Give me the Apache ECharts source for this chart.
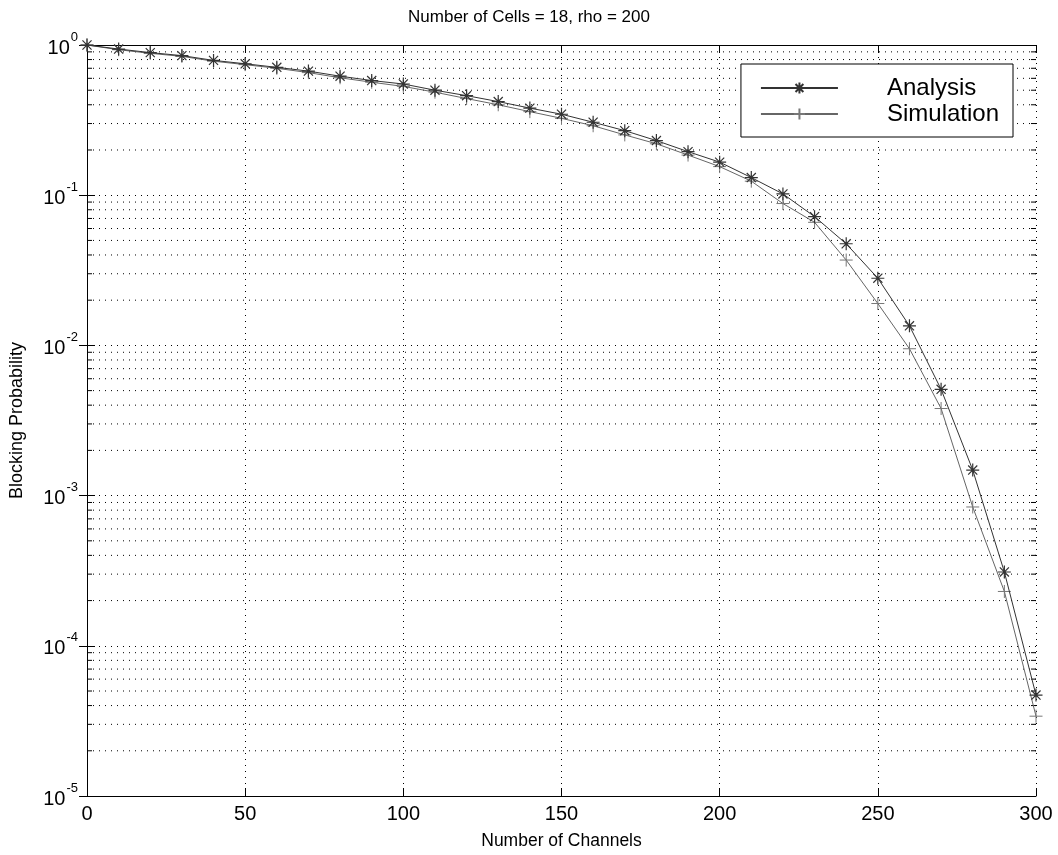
<!DOCTYPE html>
<html>
<head>
<meta charset="utf-8">
<script src="https://cdn.jsdelivr.net/npm/echarts@6/dist/echarts.min.js"></script>
<style>
  html, body { margin: 0; padding: 0; background: #fff; }
  #chart_1 { width: 1058px; height: 855px; }
</style>
</head>
<body>
<div id="chart_1"></div>
<script>
// data
var channels = [0, 10, 20, 30, 40, 50, 60, 70, 80, 90, 100, 110, 120, 130, 140, 150,
    160, 170, 180, 190, 200, 210, 220, 230, 240, 250, 260, 270, 280, 290, 300];
var analysis = [1.0, 0.94, 0.89, 0.85, 0.79, 0.75, 0.71, 0.67, 0.62, 0.58, 0.55, 0.50,
    0.46, 0.42, 0.38, 0.346, 0.306, 0.269, 0.231, 0.195, 0.166, 0.131, 0.102, 0.072,
    0.0475, 0.028, 0.0135, 0.0051, 0.00148, 0.00031, 0.000047];
var simulation = [1.0, 0.93, 0.88, 0.84, 0.78, 0.74, 0.70, 0.655, 0.605, 0.565, 0.53, 0.485,
    0.44, 0.40, 0.36, 0.325, 0.29, 0.252, 0.22, 0.185, 0.155, 0.124, 0.088, 0.066,
    0.037, 0.019, 0.0095, 0.0038, 0.00084, 0.00023, 0.000034];

// minor decade values for the log grid
var minorValues = [];
for (var e = -5; e < 0; e++) {
    for (var m = 2; m <= 9; m++) {
        minorValues.push([0, m * Math.pow(10, e)]);
    }
}

var starPath = 'path://M0,-10L0,10M-10,0L10,0M-7,-7L7,7M-7,7L7,-7';
var plusPath = 'path://M0,-10L0,10M-10,0L10,0';

var font = 'Liberation Sans, Arial, Helvetica, sans-serif';

function pairs(ys) {
    var out = [];
    for (var i = 0; i < channels.length; i++) out.push([channels[i], ys[i]]);
    return out;
}

var chart_1 = echarts.init(document.getElementById('chart_1'));

var option = {
    animation: false,
    backgroundColor: '#fff',
    title: {
        text: 'Number of Cells = 18, rho = 200',
        left: 'center',
        top: 4,
        textStyle: { fontFamily: font, fontSize: 17, fontWeight: 'normal', color: '#000' }
    },
    legend: {
        orient: 'vertical',
        right: 45,
        top: 64,
        padding: [12, 14, 11, 19],
        itemGap: 2,
        itemWidth: 77,
        itemHeight: 14,
        borderColor: '#000',
        borderWidth: 1,
        backgroundColor: '#fff',
        textStyle: { fontFamily: font, fontSize: 24, color: '#000', padding: [0, 0, 0, 44] },
        data: ['Analysis', 'Simulation']
    },
    grid: { left: 84, right: 22, top: 45, bottom: 58 },
    xAxis: [{
        type: 'value',
        min: 0,
        max: 300,
        interval: 50,
        name: 'Number of Channels',
        nameLocation: 'middle',
        nameGap: 36,
        nameTextStyle: { fontFamily: font, fontSize: 17.5, color: '#000' },
        axisLine: { show: true, lineStyle: { color: '#000', width: 1 } },
        axisTick: { inside: true, length: 8, lineStyle: { color: '#000' } },
        axisLabel: { fontFamily: font, fontSize: 20, color: '#000', margin: 8 },
        splitLine: { show: true, lineStyle: { color: '#000', type: [1, 5], width: 1 } }
    }, {
        type: 'value',
        position: 'top',
        min: 0,
        max: 300,
        interval: 50,
        axisLine: { show: true, lineStyle: { color: '#000', width: 1 } },
        axisTick: { inside: true, length: 8, lineStyle: { color: '#000' } },
        axisLabel: { show: false },
        splitLine: { show: false }
    }],
    yAxis: [{
        type: 'log',
        logBase: 10,
        min: 1e-5,
        max: 1,
        name: 'Blocking Probability',
        nameLocation: 'middle',
        nameGap: 61,
        nameTextStyle: { fontFamily: font, fontSize: 18, color: '#000' },
        axisLine: { show: true, lineStyle: { color: '#000', width: 1 } },
        axisTick: { inside: true, length: 8, lineStyle: { color: '#000' } },
        axisLabel: {
            margin: 9,
            formatter: function (v) {
                var ex = Math.round(Math.log10(v));
                return '{b|10}{s|' + ex + '}';
            },
            rich: {
                b: { fontFamily: font, fontSize: 20, color: '#000', padding: [6, 1, 0, 0] },
                s: { fontFamily: font, fontSize: 13, color: '#000', verticalAlign: 'bottom', padding: [0, 0, 16, 0] }
            }
        },
        splitLine: { show: true, lineStyle: { color: '#000', type: [1, 5], width: 1 } }
    }, {
        type: 'log',
        logBase: 10,
        position: 'right',
        min: 1e-5,
        max: 1,
        axisLine: { show: true, lineStyle: { color: '#000', width: 1 } },
        axisTick: { inside: true, length: 8, lineStyle: { color: '#000' } },
        axisLabel: { show: false },
        splitLine: { show: false }
    }],
    series: [{
        // minor log grid and minor ticks on both sides
        type: 'custom',
        silent: true,
        z: 1,
        data: minorValues,
        renderItem: function (params, api) {
            var v = api.value(1);
            var p0 = api.coord([0, v]);
            var p1 = api.coord([300, v]);
            return {
                type: 'group',
                children: [{
                    type: 'line',
                    shape: { x1: p0[0], y1: p0[1], x2: p1[0], y2: p1[1] },
                    style: { stroke: '#000', lineWidth: 1, lineDash: [1, 5] }
                }, {
                    type: 'line',
                    shape: { x1: p0[0], y1: p0[1], x2: p0[0] + 5, y2: p0[1] },
                    style: { stroke: '#000', lineWidth: 1 }
                }, {
                    type: 'line',
                    shape: { x1: p1[0] - 5, y1: p1[1], x2: p1[0], y2: p1[1] },
                    style: { stroke: '#000', lineWidth: 1 }
                }]
            };
        }
    }, {
        name: 'Analysis',
        type: 'line',
        clip: false,
        z: 3,
        data: pairs(analysis),
        symbol: starPath,
        symbolSize: 13,
        itemStyle: { color: 'none', borderColor: '#333', borderWidth: 1.2 },
        lineStyle: { color: '#333', width: 1 }
    }, {
        name: 'Simulation',
        type: 'line',
        clip: false,
        z: 2,
        data: pairs(simulation),
        symbol: plusPath,
        symbolSize: 13,
        itemStyle: { color: 'none', borderColor: '#777', borderWidth: 1 },
        lineStyle: { color: '#666', width: 1 }
    }]
};

chart_1.setOption(option);
</script>
</body>
</html>
